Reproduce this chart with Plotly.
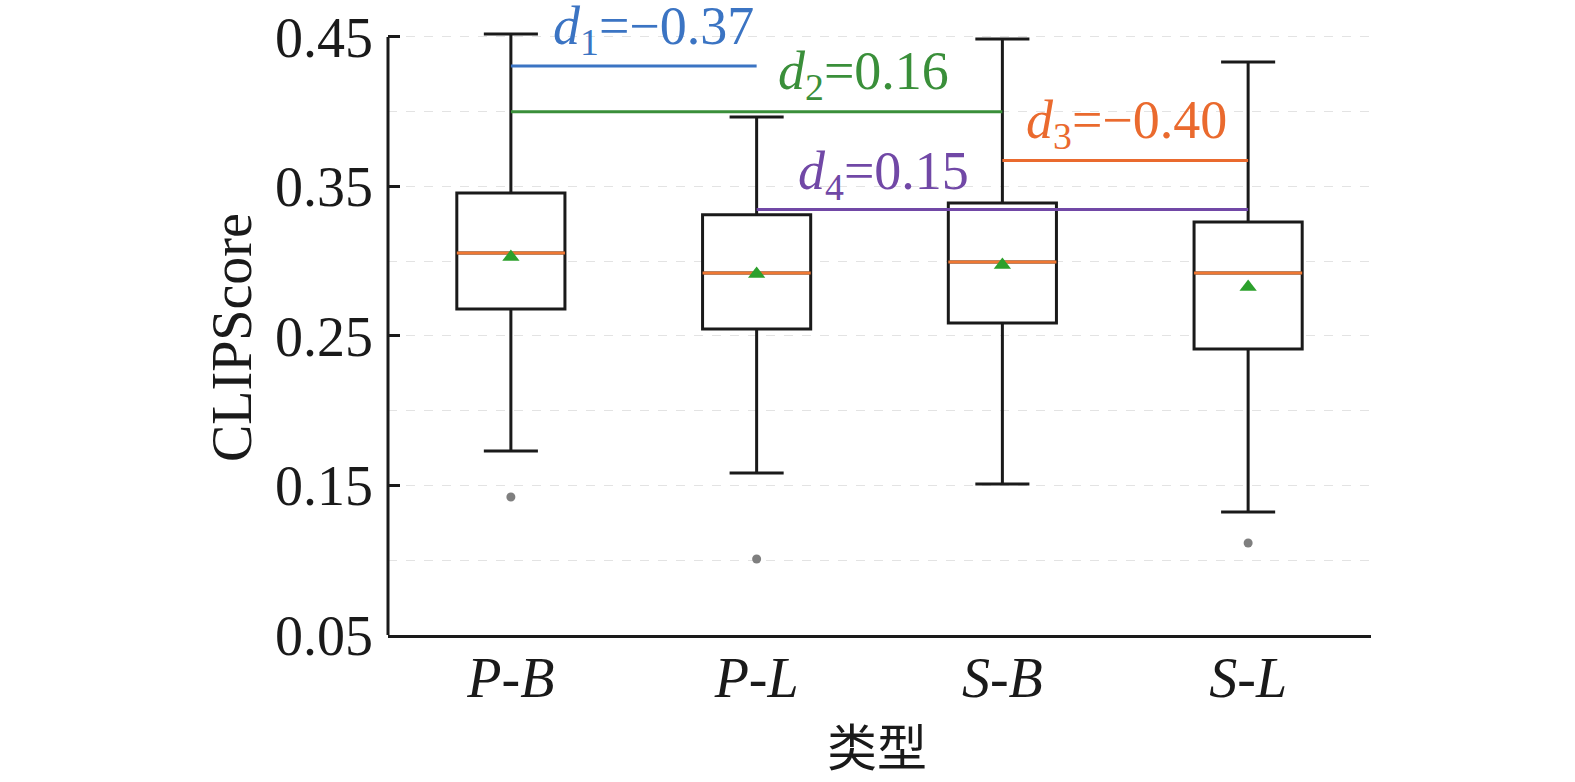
import plotly.graph_objects as go

# categories and box statistics
categories = ["P-B", "P-L", "S-B", "S-L"]
tick_text = ["<i>P-B</i>", "<i>P-L</i>", "<i>S-B</i>", "<i>S-L</i>"]
q1 = [0.268, 0.2547, 0.2587, 0.2413]
medians = [0.3055, 0.2921, 0.2995, 0.2921]
q3 = [0.3457, 0.331, 0.339, 0.3263]
lower_whisker = [0.1731, 0.1584, 0.151, 0.1323]
upper_whisker = [0.452, 0.3965, 0.4487, 0.4333]
means = [0.3028, 0.2915, 0.2975, 0.2828]

outlier_cats = ["P-B", "P-L", "S-L"]
outlier_vals = [0.1423, 0.1008, 0.1115]

# effect size brackets
d_labels = ["<i>d</i><sub>1</sub>=−0.37", "<i>d</i><sub>2</sub>=0.16",
            "<i>d</i><sub>3</sub>=−0.40", "<i>d</i><sub>4</sub>=0.15"]
d_from = ["P-B", "P-B", "S-B", "P-L"]
d_to = ["P-L", "S-B", "S-L", "S-L"]
d_levels = [0.4305, 0.400, 0.3674, 0.3346]
d_colors = ["#3b74c3", "#3a8f3a", "#ea6a2e", "#7148a6"]
# label anchors (x in category units, y in data units)
d_text_x = [0.162, 1.08, 2.09, 1.16]
d_text_y = [0.455, 0.425, 0.392, 0.358]

SERIF = "serif"

fig = go.Figure()

fig.add_trace(go.Box(
    x=categories, q1=q1, median=medians, q3=q3,
    lowerfence=lower_whisker, upperfence=upper_whisker,
    width=0.44, whiskerwidth=0.5,
    fillcolor="white", line=dict(color="#1a1a1a", width=3),
    boxpoints=False, showlegend=False, hoverinfo="skip",
))

# orange median line drawn as a flat box on top
fig.add_trace(go.Box(
    x=categories, q1=medians, median=medians, q3=medians,
    lowerfence=medians, upperfence=medians,
    width=0.44, whiskerwidth=0,
    fillcolor="rgba(0,0,0,0)", line=dict(color="#f07833", width=3),
    boxpoints=False, showlegend=False, hoverinfo="skip",
))

fig.add_trace(go.Scatter(
    x=categories, y=means, mode="markers",
    marker=dict(symbol="triangle-up", size=15, color="#2ca02c"),
    showlegend=False, hoverinfo="skip",
))

fig.add_trace(go.Scatter(
    x=outlier_cats, y=outlier_vals, mode="markers",
    marker=dict(symbol="circle", size=9, color="#7f7f7f"),
    showlegend=False, hoverinfo="skip",
))

for a, b, lvl, col in zip(d_from, d_to, d_levels, d_colors):
    fig.add_trace(go.Scatter(
        x=[a, b], y=[lvl, lvl], mode="lines",
        line=dict(color=col, width=3),
        showlegend=False, hoverinfo="skip",
    ))

for txt, tx, ty, col in zip(d_labels, d_text_x, d_text_y, d_colors):
    fig.add_annotation(
        x=tx, y=ty, xref="x", yref="y", text=txt, showarrow=False,
        xanchor="left", yanchor="middle",
        font=dict(family=SERIF, size=54, color=col),
    )

# axis titles
fig.add_annotation(x=-0.1587, y=0.2493, xref="paper", yref="y", text="CLIPScore",
                   textangle=-90, showarrow=False, xanchor="center", yanchor="middle",
                   font=dict(family=SERIF, size=56, color="#1a1a1a"))
fig.add_annotation(x=0.497, y=-0.24, xref="paper", yref="paper", text="类型",
                   showarrow=False, xanchor="center", yanchor="bottom",
                   font=dict(family="Noto Sans CJK SC", size=50, color="#1a1a1a"))

# left spine only up to 0.45
fig.add_shape(type="line", xref="paper", yref="y", x0=0, x1=0, y0=0.05, y1=0.45,
              line=dict(color="#1a1a1a", width=3), layer="above")

fig.update_layout(
    width=1575, height=782,
    margin=dict(l=388, r=204, t=22, b=147, autoexpand=False),
    paper_bgcolor="white", plot_bgcolor="white",
    boxmode="overlay",
    font=dict(family=SERIF, size=56, color="#1a1a1a"),
)

fig.update_xaxes(
    range=[-0.5, 3.5], tickvals=categories, ticktext=tick_text,
    showline=True, linecolor="#1a1a1a", linewidth=3, mirror=False,
    showgrid=False, ticks="", zeroline=False, automargin=False,
    ticklabelstandoff=-8,
    tickfont=dict(family=SERIF, size=56),
)

fig.update_yaxes(
    range=[0.05, 0.46], tickvals=[0.05, 0.15, 0.25, 0.35, 0.45],
    ticktext=["0.05", "0.15", "0.25", "0.35", "0.45"],
    ticks="inside", ticklen=12, tickwidth=3, tickcolor="#1a1a1a",
    ticklabelstandoff=14,
    showline=False, zeroline=False, automargin=False,
    showgrid=True, gridcolor="#e3e3e3", gridwidth=1, griddash="dash",
    minor=dict(tickvals=[0.10, 0.20, 0.30, 0.40], showgrid=True,
               gridcolor="#e3e3e3", gridwidth=1, griddash="dash", ticks=""),
    tickfont=dict(family=SERIF, size=56),
)

# the page body has a default 8px margin; remove it so the figure sits at the corner
fig.write_html("out.html", config={"displayModeBar": False},
               post_script="document.body.style.margin='0';")
